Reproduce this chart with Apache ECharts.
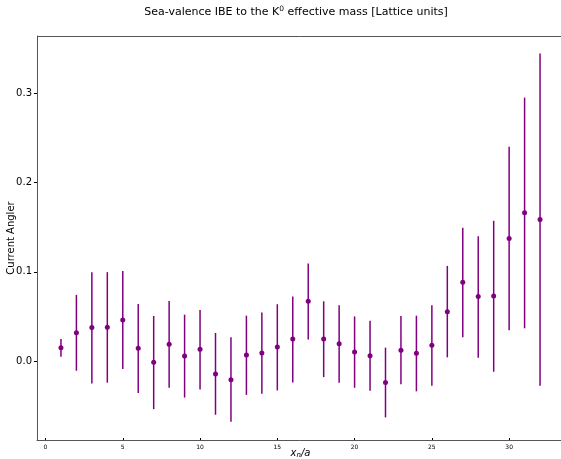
<!DOCTYPE html>
<html>
<head>
<meta charset="utf-8">
<script src="https://cdn.jsdelivr.net/npm/echarts@6/dist/echarts.min.js"></script>
<style>
  html, body { margin: 0; padding: 0; background: #fff; }
  #chart { width: 561px; height: 459px; }
</style>
</head>
<body>
<div id="chart"></div>
<script>
// Lattice sites x_n/a
const sites = [1, 2, 3, 4, 5, 6, 7, 8, 9, 10, 11, 12, 13, 14, 15, 16,
               17, 18, 19, 20, 21, 22, 23, 24, 25, 26, 27, 28, 29, 30, 31, 32];
// Central values
const angler = [0.0150, 0.0318, 0.0375, 0.0378, 0.0461, 0.0142, -0.0015, 0.0187,
                0.0056, 0.0131, -0.0146, -0.0210, 0.0067, 0.0090, 0.0157, 0.0247,
                0.0671, 0.0247, 0.0195, 0.0101, 0.0060, -0.0240, 0.0120, 0.0086,
                0.0176, 0.0554, 0.0884, 0.0723, 0.0730, 0.1375, 0.1663, 0.1588];
// Lower ends of the error bars
const errLow = [0.0049, -0.0109, -0.0251, -0.0243, -0.0090, -0.0360, -0.0540, -0.0300,
                -0.0410, -0.0320, -0.0603, -0.0680, -0.0380, -0.0367, -0.0330, -0.0240,
                0.0240, -0.0180, -0.0243, -0.0300, -0.0333, -0.0633, -0.0262, -0.0340,
                -0.0277, 0.0041, 0.0266, 0.0037, -0.0120, 0.0345, 0.0367, -0.0277];
// Upper ends of the error bars
const errHigh = [0.0247, 0.0742, 0.0997, 0.0997, 0.1011, 0.0640, 0.0506, 0.0674,
                 0.0520, 0.0573, 0.0315, 0.0266, 0.0509, 0.0543, 0.0637, 0.0723,
                 0.1094, 0.0670, 0.0625, 0.0500, 0.0453, 0.0150, 0.0506, 0.0509,
                 0.0625, 0.1067, 0.1494, 0.1400, 0.1573, 0.2404, 0.2955, 0.3449];
// Tick labels
const xTicks = [0, 5, 10, 15, 20, 25, 30];
const yTicks = [0.0, 0.1, 0.2, 0.3];

const purple = '#800080';
const axisGrey = '#555';
const font = 'DejaVu Sans';

const points = sites.map((x, i) => [x, angler[i]]);
const bars = sites.map((x, i) => [x, errLow[i], errHigh[i]]);

const chart = echarts.init(document.getElementById('chart'), null, { renderer: 'canvas' });

chart.setOption({
  animation: false,
  backgroundColor: '#fff',
  grid: { left: 37, top: 36, width: 527, height: 404, containLabel: false, outerBoundsMode: 'none' },
  graphic: [
    {
      type: 'text',
      x: 296, y: 5,
      style: {
        text: '{t|Sea-valence IBE to the K}{s|0}{t| effective mass [Lattice units]}',
        textAlign: 'center',
        rich: {
          t: { fontFamily: font, fontSize: 11, fill: '#000' },
          s: { fontFamily: font, fontSize: 7.5, fill: '#000', verticalAlign: 'top', padding: [0, 0, 6, 0] }
        }
      }
    }
  ],
  xAxis: {
    type: 'value',
    min: -0.55, max: 33.55,
    name: '{i|x}{sub|n}{i|/a}',
    nameLocation: 'middle',
    nameGap: 8,
    nameMoveOverlap: false,
    nameTextStyle: {
      rich: {
        i: { fontFamily: font, fontStyle: 'italic', fontSize: 10, color: '#000' },
        sub: { fontFamily: font, fontStyle: 'italic', fontSize: 7, color: '#000', verticalAlign: 'bottom', padding: [4, 0, 0, 0] }
      }
    },
    axisLine: { show: true, onZero: false, lineStyle: { color: axisGrey, width: 1 } },
    axisTick: { show: true, inside: true, length: 2, customValues: xTicks, lineStyle: { color: '#000' } },
    axisLabel: { customValues: xTicks, fontFamily: font, fontSize: 6, color: '#000', margin: 4 },
    splitLine: { show: false }
  },
  yAxis: {
    type: 'value',
    min: -0.0886, max: 0.3646,
    name: 'Current Angler',
    nameLocation: 'middle',
    nameGap: 21,
    nameMoveOverlap: false,
    nameTextStyle: { fontFamily: font, fontSize: 10, color: '#000' },
    axisLine: { show: true, onZero: false, lineStyle: { color: axisGrey, width: 1 } },
    axisTick: { show: true, inside: false, length: 3, customValues: yTicks, lineStyle: { color: '#000' } },
    axisLabel: {
      customValues: yTicks, fontFamily: font, fontSize: 10, color: '#000', margin: 5,
      formatter: v => v.toFixed(1)
    },
    splitLine: { show: false }
  },
  series: [
    {
      // Frame on the top and right sides
      type: 'custom',
      silent: true,
      data: [0],
      renderItem: function (params, api) {
        const cs = params.coordSys;
        return {
          type: 'polyline',
          shape: { points: [[cs.x, cs.y + 0.5], [cs.x + cs.width - 0.5, cs.y + 0.5], [cs.x + cs.width - 0.5, cs.y + cs.height]] },
          style: { stroke: axisGrey, lineWidth: 1, fill: null }
        };
      },
      z: 1
    },
    {
      type: 'custom',
      data: bars,
      encode: { x: 0, y: [1, 2] },
      renderItem: function (params, api) {
        const lo = api.coord([api.value(0), api.value(1)]);
        const hi = api.coord([api.value(0), api.value(2)]);
        return {
          type: 'line',
          shape: { x1: lo[0], y1: lo[1], x2: hi[0], y2: hi[1] },
          style: { stroke: purple, lineWidth: 1.5 }
        };
      },
      z: 2
    },
    {
      type: 'scatter',
      data: points,
      symbol: 'circle',
      symbolSize: 5,
      itemStyle: { color: purple, opacity: 1 },
      z: 3
    }
  ]
});
</script>
</body>
</html>
